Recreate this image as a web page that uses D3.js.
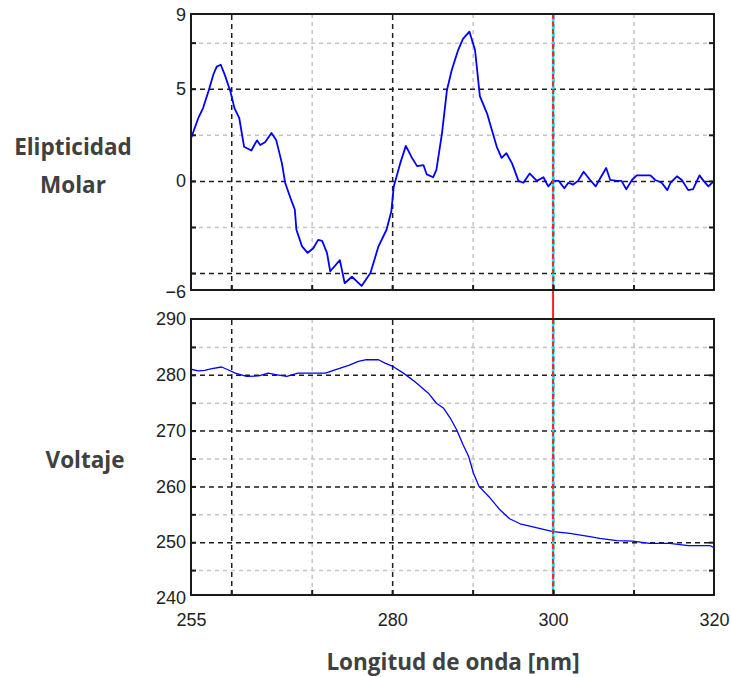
<!DOCTYPE html>
<html>
<head>
<meta charset="utf-8">
<script src="https://cdn.jsdelivr.net/npm/d3@7"></script>
<style>
  body { margin: 0; background: #fff; }
  .tick text { font-family: 'Liberation Sans', Arial, sans-serif; font-size: 18px; fill: #222; }
  .title { font-family: 'Open Sans', sans-serif; font-weight: 700; font-size: 22.5px; fill: #404040; }
</style>
</head>
<body>
<svg id="chart" width="731" height="677"></svg>
<script>
// wavelength (nm) / molar ellipticity
const elipWl = [255.0, 255.9, 256.5, 257.2, 257.8, 258.2, 258.7, 259.2, 259.9, 260.4, 261.0, 261.6,
  262.5, 263.2, 263.6, 264.2, 265.0, 265.6, 266.3, 266.7, 267.5, 267.9, 268.1, 268.8, 269.5, 270.2,
  270.8, 271.3, 271.9, 272.3, 273.5, 274.1, 275.0, 276.2, 277.3, 278.3, 279.3, 279.9, 280.2, 281.0,
  281.7, 282.4, 283.1, 283.9, 284.3, 285.1, 285.5, 286.2, 286.8, 287.4, 288.2, 288.8, 289.6, 290.3,
  290.9, 291.8, 292.4, 293.0, 293.6, 294.2, 294.9, 295.7, 296.3, 297.1, 298.0, 298.8, 299.4, 300.0,
  300.7, 301.4, 301.9, 302.5, 303.1, 303.8, 304.6, 305.3, 306.0, 306.6, 307.1, 307.9, 308.5, 309.1,
  309.8, 310.4, 311.2, 312.1, 312.7, 313.5, 314.2, 314.6, 315.4, 316.0, 316.8, 317.4, 318.2, 318.7,
  319.3, 320.0]
const elipVal = [2.3, 3.4, 3.95, 4.9, 5.8, 6.2, 6.3, 5.75, 4.85, 3.95, 3.4, 1.85,
  1.65, 2.2, 1.95, 2.1, 2.6, 2.2, 0.95, -0.1, -1.1, -1.55, -2.65, -3.55, -3.9, -3.65,
  -3.2, -3.25, -3.9, -4.9, -4.3, -5.55, -5.2, -5.7, -5.0, -3.55, -2.65, -1.65, -0.3, 0.95,
  1.9, 1.3, 0.8, 0.85, 0.35, 0.2, 0.6, 2.6, 4.9, 6.0, 7.1, 7.7, 8.1, 7.1,
  4.6, 3.65, 2.75, 1.85, 1.25, 1.5, 0.95, 0, -0.1, 0.4, 0, 0.2, -0.3, 0,
  0, -0.4, -0.1, -0.2, 0, 0.5, 0.05, -0.3, 0.25, 0.7, 0.05, 0, 0, -0.45,
  0.05, 0.3, 0.3, 0.3, 0.05, -0.1, -0.5, -0.1, 0.25, 0.05, -0.5, -0.45, 0.3, 0,
  -0.3, 0]

// wavelength (nm) / voltage
const voltWl = [255.0, 255.9, 256.7, 257.6, 258.8, 259.6, 260.5, 261.9, 263.4, 264.6, 265.7, 266.9,
  268.3, 270.0, 271.7, 272.9, 274.6, 275.8, 276.8, 278.3, 279.1, 280.1, 281.4, 282.8, 284.5, 285.5,
  286.4, 287.2, 288.0, 288.8, 289.5, 290.1, 290.8, 292.0, 293.4, 294.6, 295.9, 297.1, 298.8, 300.0,
  302.1, 304.2, 305.8, 307.9, 309.9, 312.0, 314.5, 316.8, 319.5, 320.0]
const voltVal = [281.0, 280.7, 280.8, 281.1, 281.4, 280.9, 280.3, 279.7, 279.8, 280.3, 280.0, 279.7,
  280.3, 280.3, 280.3, 280.9, 281.7, 282.4, 282.7, 282.7, 282.1, 281.5, 280.3, 278.8, 276.7, 274.9,
  274.0, 272.3, 270.2, 267.5, 265.4, 262.4, 260.0, 258.2, 255.8, 254.2, 253.3, 252.9, 252.3, 251.9,
  251.6, 251.1, 250.7, 250.3, 250.2, 249.8, 249.8, 249.4, 249.4, 249.0]

const xTickLabels = [255, 280, 300, 320]
const xMajorGrid = [260, 280, 300]
const xMinorGrid = [270, 290, 310]
const cursorWl = 300

const elipTickLabels = [9, 5, 0, -6]
const elipMajorGrid = [5, 0, -5]
const elipMinorGrid = [7.5, 2.5, -2.5]

const voltTickLabels = [290, 280, 270, 260, 250, 240]
const voltMajorGrid = [280, 270, 260, 250]
const voltMinorGrid = [285, 275, 265, 255, 245]

const svg = d3.select('#chart')
const left = 191
const right = 714

const x = d3.scaleLinear().domain([255, 320]).range([left, right])

const panels = [
  {
    id: 'elip', top: 14, bottom: 290,
    y: d3.scaleLinear().domain([-6, 9]).range([291.5, 15]),
    wl: elipWl, val: elipVal, labels: elipTickLabels,
    major: elipMajorGrid, minor: elipMinorGrid, lineWidth: 1.8
  },
  {
    id: 'volt', top: 319, bottom: 595,
    y: d3.scaleLinear().domain([240, 290]).range([598, 319]),
    wl: voltWl, val: voltVal, labels: voltTickLabels,
    major: voltMajorGrid, minor: voltMinorGrid, lineWidth: 1.3
  }
]

// red cursor line runs across both panels and the gap between them
svg.append('line')
  .attr('x1', x(cursorWl)).attr('x2', x(cursorWl))
  .attr('y1', panels[0].top).attr('y2', panels[1].bottom)
  .attr('stroke', '#ff2020').attr('stroke-width', 2)

panels.forEach(p => {
  const h = p.bottom - p.top
  const g = svg.append('g')

  g.append('clipPath').attr('id', 'clip-' + p.id)
    .append('rect')
    .attr('x', left).attr('y', p.top)
    .attr('width', right - left).attr('height', h)

  g.append('rect')
    .attr('x', left).attr('y', p.top)
    .attr('width', right - left).attr('height', h)
    .attr('fill', '#fff')

  // grid lines
  const gridStyle = (sel, color, dash) => {
    sel.select('.domain').remove()
    sel.selectAll('.tick line')
      .attr('stroke', color).attr('stroke-width', 1.5).attr('stroke-dasharray', dash)
  }
  g.append('g')
    .attr('transform', `translate(0,${p.bottom})`)
    .call(d3.axisBottom(x).tickValues(xMinorGrid).tickSize(-h).tickFormat(''))
    .call(gridStyle, '#c4c4c4', '4,4')
  g.append('g')
    .attr('transform', `translate(${left},0)`)
    .call(d3.axisLeft(p.y).tickValues(p.minor).tickSize(-(right - left)).tickFormat(''))
    .call(gridStyle, '#c4c4c4', '4,4')
  g.append('g')
    .attr('transform', `translate(0,${p.bottom})`)
    .call(d3.axisBottom(x).tickValues(xMajorGrid).tickSize(-h).tickFormat(''))
    .call(gridStyle, '#1e1e1e', '5,4')
  g.append('g')
    .attr('transform', `translate(${left},0)`)
    .call(d3.axisLeft(p.y).tickValues(p.major).tickSize(-(right - left)).tickFormat(''))
    .call(gridStyle, '#1e1e1e', '5,4')

  // data line
  const line = d3.line()
    .x((d, i) => x(p.wl[i]))
    .y(d => p.y(d))
  g.append('path')
    .datum(p.val)
    .attr('clip-path', `url(#clip-${p.id})`)
    .attr('fill', 'none')
    .attr('stroke', '#0000ff')
    .attr('stroke-width', p.lineWidth)
    .attr('stroke-linejoin', 'round')
    .attr('d', line)

  // cursor inside the panel: cyan with red dashes
  g.append('line')
    .attr('x1', x(cursorWl)).attr('x2', x(cursorWl))
    .attr('y1', p.top).attr('y2', p.bottom)
    .attr('stroke', '#00f0ff').attr('stroke-width', 2.5)
  g.append('line')
    .attr('x1', x(cursorWl)).attr('x2', x(cursorWl))
    .attr('y1', p.top).attr('y2', p.bottom)
    .attr('stroke', '#ff2020').attr('stroke-width', 2)
    .attr('stroke-dasharray', '5,2.5')

  // frame
  g.append('rect')
    .attr('x', left).attr('y', p.top)
    .attr('width', right - left).attr('height', h)
    .attr('fill', 'none').attr('stroke', '#1a1a1a').attr('stroke-width', 2)

  // small inward tick marks
  const tickStyle = sel => {
    sel.select('.domain').remove()
    sel.selectAll('.tick line').attr('stroke', '#1a1a1a').attr('stroke-width', 2)
  }
  const allY = p.major.concat(p.minor)
  const allX = xMajorGrid.concat(xMinorGrid)
  g.append('g').attr('transform', `translate(${left},0)`)
    .call(d3.axisLeft(p.y).tickValues(allY).tickSize(-5).tickFormat('')).call(tickStyle)
  g.append('g').attr('transform', `translate(${right},0)`)
    .call(d3.axisRight(p.y).tickValues(allY).tickSize(-5).tickFormat('')).call(tickStyle)
  g.append('g').attr('transform', `translate(0,${p.bottom})`)
    .call(d3.axisBottom(x).tickValues(allX).tickSize(-5).tickFormat('')).call(tickStyle)

  // y tick labels
  g.append('g').attr('transform', `translate(${left},0)`)
    .call(d3.axisLeft(p.y).tickValues(p.labels).tickSize(0).tickPadding(5))
    .call(sel => sel.select('.domain').remove())
})

// x tick labels under the lower panel
svg.append('g')
  .attr('transform', `translate(0,${panels[1].bottom})`)
  .call(d3.axisBottom(x).tickValues(xTickLabels).tickSize(0).tickPadding(18))
  .call(sel => sel.select('.domain').remove())

// axis titles
svg.append('text').attr('class', 'title')
  .attr('x', 73).attr('y', 155).attr('text-anchor', 'middle').text('Elipticidad')
svg.append('text').attr('class', 'title')
  .attr('x', 73).attr('y', 193).attr('text-anchor', 'middle').text('Molar')
svg.append('text').attr('class', 'title')
  .attr('x', 85).attr('y', 468).attr('text-anchor', 'middle').text('Voltaje')
svg.append('text').attr('class', 'title')
  .attr('x', 453).attr('y', 670).attr('text-anchor', 'middle').text('Longitud de onda [nm]')
</script>
</body>
</html>
